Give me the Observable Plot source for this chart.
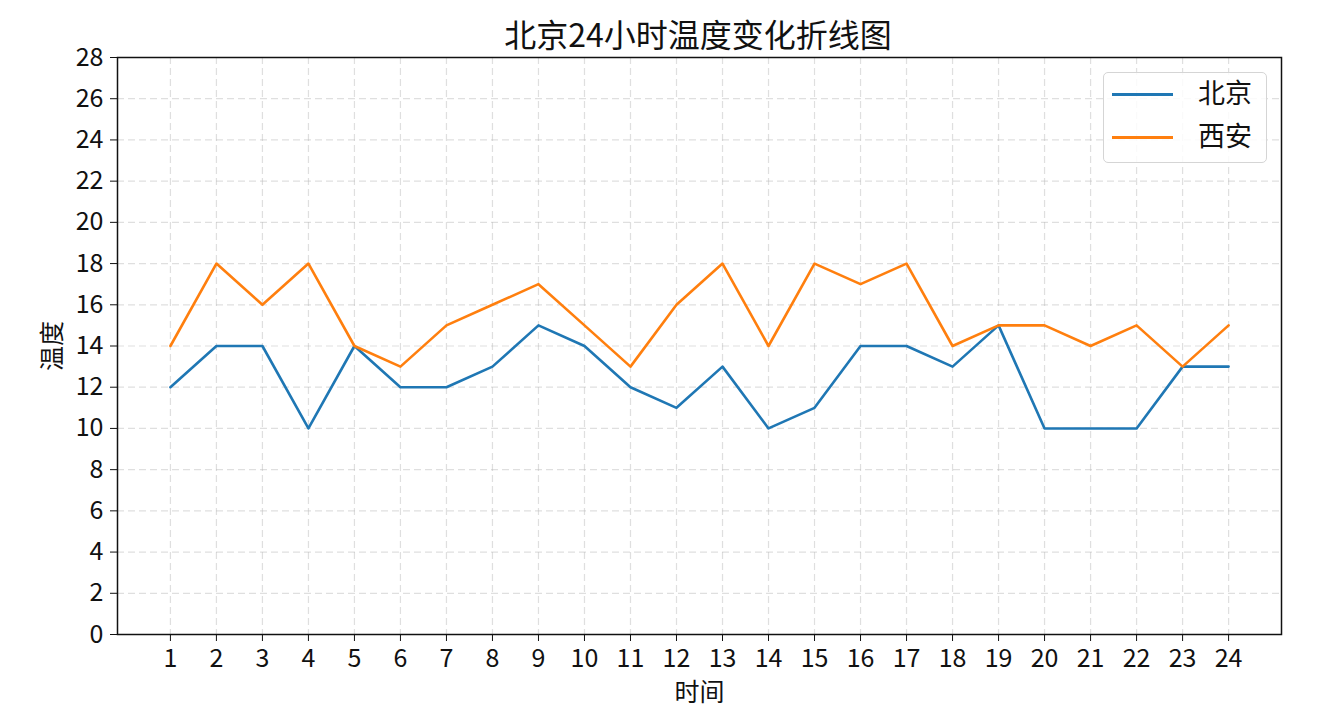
<!DOCTYPE html>
<html><head><meta charset="utf-8">
<script src="https://cdn.jsdelivr.net/npm/d3@7"></script>
<script src="https://cdn.jsdelivr.net/npm/@observablehq/plot@0.6"></script>
<style>
body{margin:0;background:#fff;font-family:"Noto Sans CJK SC","Noto Sans",sans-serif;}
#wrap{position:relative;width:1319px;height:706px;overflow:hidden;}
#title{position:absolute;left:0;top:17px;width:1319px;text-align:center;font-size:32px;line-height:1;color:#111;padding-left:77px;box-sizing:border-box;white-space:nowrap;z-index:2;}
#legend{position:absolute;left:1103px;top:72px;width:164px;height:91px;border:1px solid #d5d5d5;border-radius:5px;background:rgba(255,255,255,0.85);box-sizing:border-box;}
.lg-line{position:absolute;left:8px;width:61px;height:3px;}
.lg-text{position:absolute;left:94px;font-size:27px;line-height:1;color:#111;}
</style></head>
<body>
<div id="wrap">
<div id="chart"></div>
<div id="title">北京24小时温度变化折线图</div>
<div id="legend"></div>
</div>
<script>
const hours = [1,2,3,4,5,6,7,8,9,10,11,12,13,14,15,16,17,18,19,20,21,22,23,24];
const beijing = [12,14,14,10,14,12,12,13,15,14,12,11,13,10,11,14,14,13,15,10,10,10,13,13];
const xian = [14,18,16,18,14,13,15,16,17,15,13,16,18,14,18,17,18,14,15,15,14,15,13,15];
const yTicks = [0,2,4,6,8,10,12,14,16,18,20,22,24,26,28];
const cities = ["北京","西安"];
const colors = ["#1f77b4","#ff7f0e"];

const rows = [
  ...hours.map((h,i)=>({hour:h,temp:beijing[i],city:cities[0]})),
  ...hours.map((h,i)=>({hour:h,temp:xian[i],city:cities[1]}))
];

const chart = Plot.plot({
  width:1319, height:706,
  marginTop:57, marginBottom:72, marginLeft:117, marginRight:38,
  style:{fontFamily:'"Noto Sans CJK SC","Noto Sans",sans-serif', fontSize:"25px", color:"#111", background:"white"},
  x:{domain:[-0.15,25.15]},
  y:{domain:[0,28]},
  color:{domain:cities, range:colors},
  marks:[
    Plot.gridX(hours,{stroke:"#b8b8b8", strokeOpacity:0.45, strokeDasharray:"7,4", strokeWidth:1.2}),
    Plot.gridY(yTicks,{stroke:"#b8b8b8", strokeOpacity:0.45, strokeDasharray:"7,4", strokeWidth:1.2}),
    Plot.line(rows,{x:"hour", y:"temp", z:"city", stroke:"city", strokeWidth:2.6}),
    Plot.frame({stroke:"#111", strokeWidth:1.5}),
    Plot.axisX(hours,{tickSize:7, tickPadding:8, tickFormat:d=>String(d), label:"时间", labelAnchor:"center", labelOffset:66, labelArrow:"none"}),
    Plot.axisY(yTicks,{tickSize:7, tickPadding:7, tickFormat:d=>String(d), label:"温度", labelAnchor:"center", labelOffset:74, labelArrow:"none"})
  ]
});
document.getElementById("chart").appendChild(chart);

const lg = document.getElementById("legend");
cities.forEach((c,i)=>{
  const y = 21 + i*43;
  const ln = document.createElement("div");
  ln.className="lg-line"; ln.style.top=(y-1)+"px"; ln.style.background=colors[i];
  const tx = document.createElement("div");
  tx.className="lg-text"; tx.style.top=(y-16)+"px"; tx.textContent=c;
  lg.appendChild(ln); lg.appendChild(tx);
});
</script>
</body></html>
